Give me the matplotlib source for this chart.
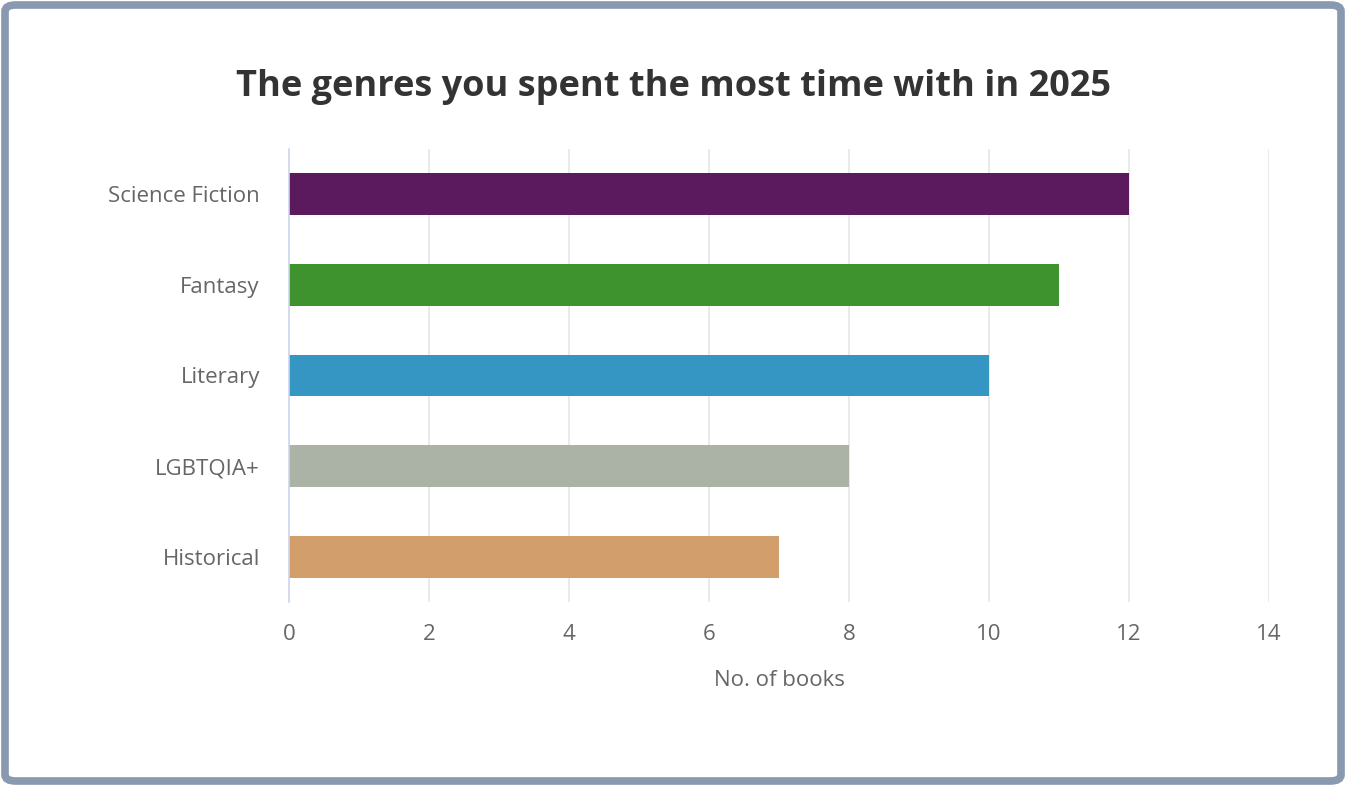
import matplotlib
matplotlib.use("Agg")
import matplotlib.pyplot as plt
from matplotlib.patches import FancyBboxPatch

categories = ["Science Fiction", "Fantasy", "Literary", "LGBTQIA+", "Historical"]
values = [12, 11, 10, 8, 7]
colors = ["#5c1a5e", "#3f932e", "#3596c4", "#abb2a6", "#d29e6c"]
xticks = [0, 2, 4, 6, 8, 10, 12, 14]
title = "The genres you spent the most time with in 2025"
xlabel = "No. of books"

plt.rcParams['font.family'] = ['Open Sans', 'DejaVu Sans']

fig = plt.figure(figsize=(13.46, 7.86), dpi=100)
fig.patch.set_facecolor("white")

border = FancyBboxPatch((5/1346, 5/786), 1336/1346, 776/786,
                        boxstyle="round,pad=0,rounding_size=0.008",
                        transform=fig.transFigure, facecolor="none",
                        edgecolor="#8899b0", linewidth=5.5, zorder=10)
fig.patches.append(border)

ax = fig.add_axes([289/1346, 1-602/786, 980/1346, 453/786])
ax.set_facecolor("none")
ypos = list(range(len(categories)))
ax.barh(ypos, values, height=0.46, color=colors, zorder=3)
ax.set_ylim(len(categories)-0.5, -0.5)
ax.set_xlim(0, 14)
ax.set_xticks(xticks)
ax.set_yticks(ypos)
ax.set_yticklabels(categories)
ax.grid(axis="x", color="#e6e6e6", linewidth=1.2, zorder=0)
for s in ["top", "right", "bottom"]:
    ax.spines[s].set_visible(False)
ax.spines["left"].set_color("#ccd6eb")
ax.spines["left"].set_linewidth(1.2)
ax.spines["left"].set_zorder(4)
ax.tick_params(axis="both", length=0, labelsize=16, labelcolor="#666666")
ax.tick_params(axis="y", pad=21)
ax.tick_params(axis="x", pad=16)
ax.set_xlabel(xlabel, fontsize=16, color="#666666", labelpad=18)
fig.text(0.5, 1-87/786, title, ha="center", va="center", fontsize=26,
         fontweight="bold", color="#333333")

fig.savefig("out.png", dpi=100, facecolor="white")
